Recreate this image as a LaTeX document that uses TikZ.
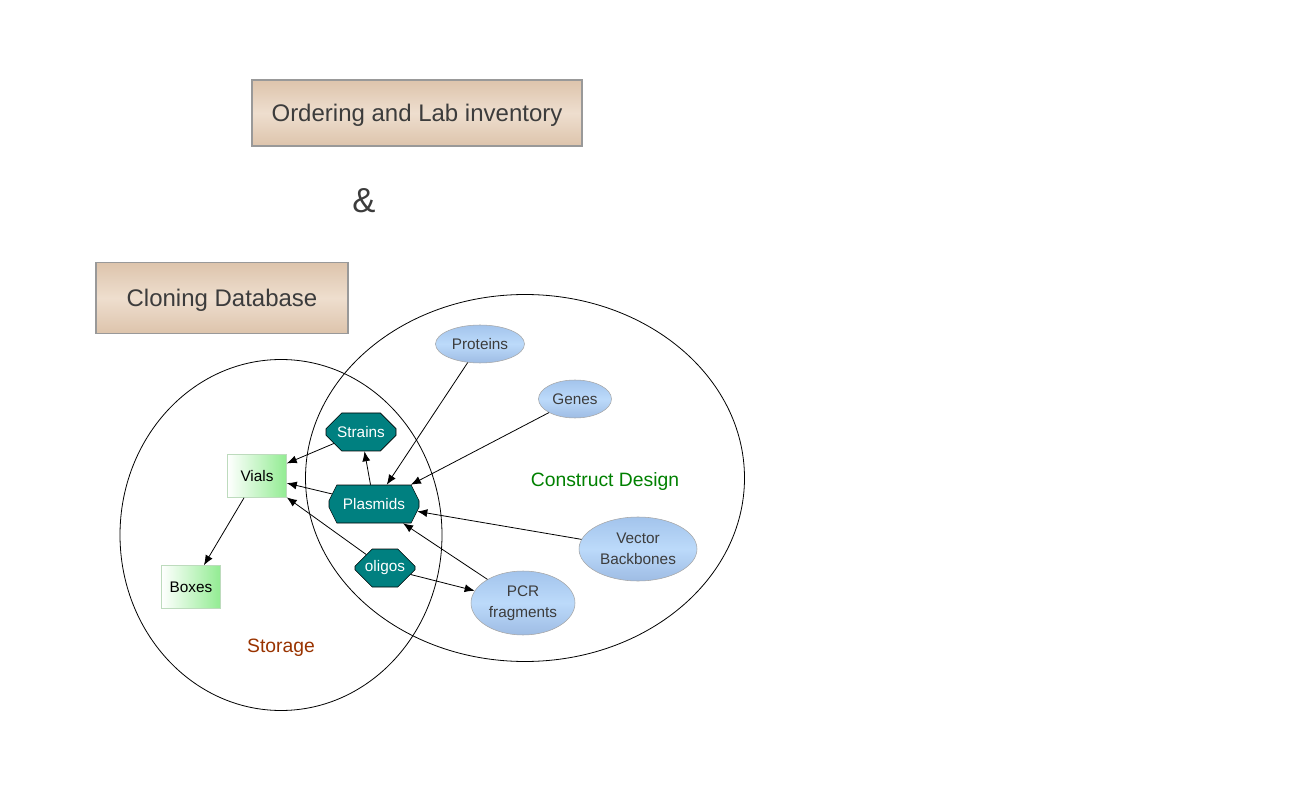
\documentclass[tikz,border=0pt]{standalone}
\usepackage{fontspec}
\setmainfont{Liberation Sans}
\usepackage{tikz}
\usetikzlibrary{arrows.meta,shapes,positioning}
\definecolor{tanmid}{RGB}{238,222,206}
\definecolor{tanedge}{RGB}{221,196,172}
\definecolor{bluetop}{RGB}{163,196,236}
\definecolor{bluemid}{RGB}{188,218,250}
\definecolor{bluebot}{RGB}{158,188,228}
\definecolor{boxgreen}{RGB}{146,236,146}
\definecolor{darktext}{RGB}{60,60,60}
\definecolor{plasmteal}{RGB}{0,128,128}
\definecolor{designgreen}{RGB}{0,128,0}
\definecolor{storagebrown}{RGB}{153,51,0}

\begin{document}
\begin{tikzpicture}[x=0.75pt,y=-0.75pt,
  title/.style={draw=gray!80,line width=0.8pt,top color=tanedge,bottom color=tanedge,middle color=tanmid,
    text=darktext,font=\fontsize{18}{22}\selectfont,inner sep=0pt,text depth=0pt},
  region/.style={draw,ellipse,inner sep=0pt,line width=0.6pt},
  item/.style={draw=gray!70,ellipse,inner sep=0pt,top color=bluetop,bottom color=bluebot,middle color=bluemid,
    text=darktext,align=center,font=\fontsize{11.5}{15.5}\selectfont},
  oct/.style={draw,chamfered rectangle,chamfered rectangle sep=7.5pt,inner sep=0pt,
    fill=plasmteal,text=white,minimum height=28.5pt,font=\fontsize{11.5}{14}\selectfont},
  store/.style={draw=green!30!gray!40,left color=white,right color=boxgreen,minimum width=44.25pt,
    minimum height=32.25pt,inner sep=0pt,font=\fontsize{11.5}{14}\selectfont},
  link/.style={-{Latex[length=7.5pt,width=6pt]},line width=0.6pt}]
\useasboundingbox (0,0) rectangle (1296,791);

\node [title,minimum width=247.5pt,minimum height=49.5pt] (order) at (417,113) {Ordering and Lab inventory};
\node [text=darktext,font=\fontsize{26}{30}\selectfont,inner sep=0pt] (amp) at (364,201) {\&};
\node [title,minimum width=189pt,minimum height=53.25pt] (cloning) at (222,298) {Cloning Database};

\node [region,minimum width=241.5pt,minimum height=263.25pt] (storage) at (281,535) {};
\node [region,minimum width=329.25pt,minimum height=275.25pt] (construct) at (525,478) {};
\node [text=designgreen,font=\fontsize{14.5}{17}\selectfont] (designlabel) at (605,482) {Construct Design};
\node [text=storagebrown,font=\fontsize{14.5}{17}\selectfont] (storagelabel) at (281,648) {Storage};

\node [item,minimum width=66.75pt,minimum height=28.5pt] (proteins) at (480,344) {Proteins};
\node [item,minimum width=54.75pt,minimum height=28.5pt] (genes) at (575,399) {Genes};
\node [item,minimum width=88.5pt,minimum height=48pt] (vector) at (638,549) {Vector\\Backbones};
\node [item,minimum width=78pt,minimum height=48pt] (pcr) at (523,603) {PCR\\fragments};

\node [oct,minimum width=52.5pt] (strains) at (361,432) {Strains};
\node [oct,minimum width=67.5pt,chamfered rectangle xsep=15pt,chamfered rectangle angle=26.57] (plasmids) at (374,504) {Plasmids};
\node [oct,minimum width=45pt] (oligos) at (385,568) {oligos};

\node [store] (vials) at (257,476) {Vials};
\node [store] (boxes) at (191,587) {Boxes};

\draw [link] (proteins) -- (plasmids);
\draw [link] (genes) -- (plasmids);
\draw [link] (vector) -- (plasmids);
\draw [link] (pcr) -- (plasmids);
\draw [link] (oligos) -- (pcr);
\draw [link] (plasmids) -- (strains);
\draw [link] (strains) -- (vials);
\draw [link] (plasmids) -- (vials);
\draw [link] (oligos) -- (vials);
\draw [link] (vials) -- (boxes);
\end{tikzpicture}
\end{document}
